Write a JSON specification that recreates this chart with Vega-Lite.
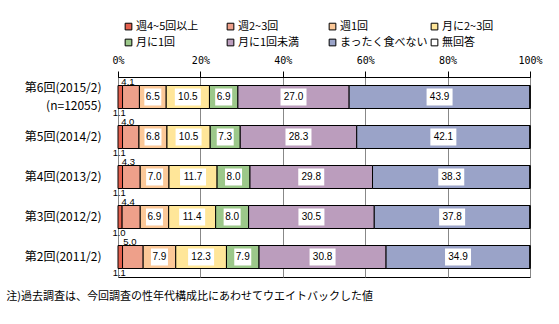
{
  "$schema": "https://vega.github.io/schema/vega-lite/v6.json",
  "autosize": "none",
  "width": 412,
  "height": 200,
  "padding": {"left": 118, "top": 77, "right": 29, "bottom": 47},
  "background": "white",
  "config": {
    "view": {"stroke": "black", "strokeWidth": 1},
    "font": "Noto Sans CJK JP"
  },
  "title": {
    "text": "注)過去調査は、今回調査の性年代構成比にあわせてウエイトバックした値",
    "orient": "bottom",
    "anchor": "start",
    "dx": -18,
    "offset": 13,
    "fontSize": 11,
    "fontWeight": "normal",
    "font": "Noto Sans CJK JP",
    "color": "black"
  },
  "data": {
    "values": [
      {"round": "第6回(2015/2)", "cat": "週4~5回以上", "k": 1, "value": 1.1},
      {"round": "第6回(2015/2)", "cat": "週2~3回", "k": 2, "value": 4.1},
      {"round": "第6回(2015/2)", "cat": "週1回", "k": 3, "value": 6.5},
      {"round": "第6回(2015/2)", "cat": "月に2~3回", "k": 4, "value": 10.5},
      {"round": "第6回(2015/2)", "cat": "月に1回", "k": 5, "value": 6.9},
      {"round": "第6回(2015/2)", "cat": "月に1回未満", "k": 6, "value": 27.0},
      {"round": "第6回(2015/2)", "cat": "まったく食べない", "k": 7, "value": 43.9},
      {"round": "第6回(2015/2)", "cat": "無回答", "k": 8, "value": 0},
      {"round": "第5回(2014/2)", "cat": "週4~5回以上", "k": 1, "value": 1.1},
      {"round": "第5回(2014/2)", "cat": "週2~3回", "k": 2, "value": 4.0},
      {"round": "第5回(2014/2)", "cat": "週1回", "k": 3, "value": 6.8},
      {"round": "第5回(2014/2)", "cat": "月に2~3回", "k": 4, "value": 10.5},
      {"round": "第5回(2014/2)", "cat": "月に1回", "k": 5, "value": 7.3},
      {"round": "第5回(2014/2)", "cat": "月に1回未満", "k": 6, "value": 28.3},
      {"round": "第5回(2014/2)", "cat": "まったく食べない", "k": 7, "value": 42.1},
      {"round": "第5回(2014/2)", "cat": "無回答", "k": 8, "value": 0},
      {"round": "第4回(2013/2)", "cat": "週4~5回以上", "k": 1, "value": 1.1},
      {"round": "第4回(2013/2)", "cat": "週2~3回", "k": 2, "value": 4.3},
      {"round": "第4回(2013/2)", "cat": "週1回", "k": 3, "value": 7.0},
      {"round": "第4回(2013/2)", "cat": "月に2~3回", "k": 4, "value": 11.7},
      {"round": "第4回(2013/2)", "cat": "月に1回", "k": 5, "value": 8.0},
      {"round": "第4回(2013/2)", "cat": "月に1回未満", "k": 6, "value": 29.8},
      {"round": "第4回(2013/2)", "cat": "まったく食べない", "k": 7, "value": 38.3},
      {"round": "第4回(2013/2)", "cat": "無回答", "k": 8, "value": 0},
      {"round": "第3回(2012/2)", "cat": "週4~5回以上", "k": 1, "value": 1.0},
      {"round": "第3回(2012/2)", "cat": "週2~3回", "k": 2, "value": 4.4},
      {"round": "第3回(2012/2)", "cat": "週1回", "k": 3, "value": 6.9},
      {"round": "第3回(2012/2)", "cat": "月に2~3回", "k": 4, "value": 11.4},
      {"round": "第3回(2012/2)", "cat": "月に1回", "k": 5, "value": 8.0},
      {"round": "第3回(2012/2)", "cat": "月に1回未満", "k": 6, "value": 30.5},
      {"round": "第3回(2012/2)", "cat": "まったく食べない", "k": 7, "value": 37.8},
      {"round": "第3回(2012/2)", "cat": "無回答", "k": 8, "value": 0},
      {"round": "第2回(2011/2)", "cat": "週4~5回以上", "k": 1, "value": 1.1},
      {"round": "第2回(2011/2)", "cat": "週2~3回", "k": 2, "value": 5.0},
      {"round": "第2回(2011/2)", "cat": "週1回", "k": 3, "value": 7.9},
      {"round": "第2回(2011/2)", "cat": "月に2~3回", "k": 4, "value": 12.3},
      {"round": "第2回(2011/2)", "cat": "月に1回", "k": 5, "value": 7.9},
      {"round": "第2回(2011/2)", "cat": "月に1回未満", "k": 6, "value": 30.8},
      {"round": "第2回(2011/2)", "cat": "まったく食べない", "k": 7, "value": 34.9},
      {"round": "第2回(2011/2)", "cat": "無回答", "k": 8, "value": 0}
    ]
  },
  "transform": [
    {"stack": "value", "groupby": ["round"], "sort": [{"field": "k"}], "offset": "normalize", "as": ["v0", "v1"]},
    {"calculate": "(datum.v0 + datum.v1) / 2", "as": "mid"},
    {"calculate": "format(datum.value, '.1f')", "as": "label"}
  ],
  "encoding": {
    "y": {
      "field": "round",
      "type": "nominal",
      "sort": ["第6回(2015/2)", "第5回(2014/2)", "第4回(2013/2)", "第3回(2012/2)", "第2回(2011/2)"],
      "scale": {"paddingInner": 0.425, "paddingOuter": 0.2125},
      "axis": {
        "title": null,
        "domain": false,
        "ticks": false,
        "labelPadding": 17,
        "labelFontSize": 12,
        "labelColor": "black",
        "labelFont": "Noto Sans CJK JP",
        "labelLineHeight": 18,
        "labelOffset": {"condition": {"test": "datum.value == '第6回(2015/2)'", "value": -9}, "value": 0},
        "labelExpr": "datum.value == '第6回(2015/2)' ? ['第6回(2015/2)', '(n=12055)'] : datum.value"
      }
    }
  },
  "layer": [
    {
      "mark": {"type": "bar", "stroke": "black", "strokeWidth": 1},
      "encoding": {
        "x": {
          "field": "v0",
          "type": "quantitative",
          "scale": {"domain": [0, 1], "nice": false},
          "axis": {
            "orient": "top",
            "title": null,
            "format": "%",
            "values": [0, 0.2, 0.4, 0.6, 0.8, 1],
            "grid": true,
            "gridColor": "#888888",
            "gridWidth": 1,
            "domainColor": "black",
            "tickColor": "black",
            "tickSize": 6,
            "labelPadding": 6,
            "labelFontSize": 10,
            "labelColor": "black",
            "labelFont": "DejaVu Sans Mono",
            "labelFlush": false
          }
        },
        "x2": {"field": "v1"},
        "color": {
          "field": "cat",
          "type": "nominal",
          "scale": {
            "domain": ["週4~5回以上", "週2~3回", "週1回", "月に2~3回", "月に1回", "月に1回未満", "まったく食べない", "無回答"],
            "range": ["#e4604e", "#eea08a", "#fbc898", "#ffe699", "#9cc88a", "#bb9dbd", "#9aa3c8", "#ffffff"]
          },
          "legend": {
            "title": null,
            "orient": "none",
            "legendX": 5,
            "legendY": -56,
            "direction": "horizontal",
            "columns": 4,
            "gridAlign": "all",
            "columnPadding": 1,
            "rowPadding": 4,
            "symbolType": "square",
            "symbolSize": 45,
            "symbolStrokeColor": "black",
            "symbolStrokeWidth": 1,
            "labelFontSize": 11,
            "labelFont": "Noto Sans CJK JP",
            "labelColor": "black",
            "labelOffset": 2,
            "labelLimit": 120
          }
        }
      }
    },
    {
      "transform": [{"filter": "datum.k >= 3 && datum.k <= 7 && length(datum.label) == 3"}],
      "mark": {"type": "point", "shape": "square", "filled": true, "color": "white", "opacity": 1, "size": 289},
      "encoding": {"x": {"field": "mid", "type": "quantitative"}}
    },
    {
      "transform": [{"filter": "datum.k >= 3 && datum.k <= 7 && length(datum.label) == 4"}],
      "mark": {"type": "point", "shape": "M-1,-0.654H1V0.654H-1Z", "filled": true, "color": "white", "opacity": 1, "size": 676},
      "encoding": {"x": {"field": "mid", "type": "quantitative"}}
    },
    {
      "transform": [{"filter": "datum.k >= 3 && datum.k <= 7"}],
      "mark": {"type": "text", "fontSize": 10, "font": "Liberation Sans", "color": "black"},
      "encoding": {"x": {"field": "mid", "type": "quantitative"}, "text": {"field": "label"}}
    },
    {
      "transform": [{"filter": "datum.k == 1"}],
      "mark": {"type": "text", "fontSize": 9.5, "font": "Liberation Sans", "color": "black", "dy": 16, "dx": -1},
      "encoding": {"x": {"field": "mid", "type": "quantitative"}, "text": {"field": "label"}}
    },
    {
      "transform": [{"filter": "datum.k == 2"}],
      "mark": {"type": "text", "fontSize": 9.5, "font": "Liberation Sans", "color": "black", "dy": -15, "dx": -3},
      "encoding": {"x": {"field": "mid", "type": "quantitative"}, "text": {"field": "label"}}
    }
  ]
}
